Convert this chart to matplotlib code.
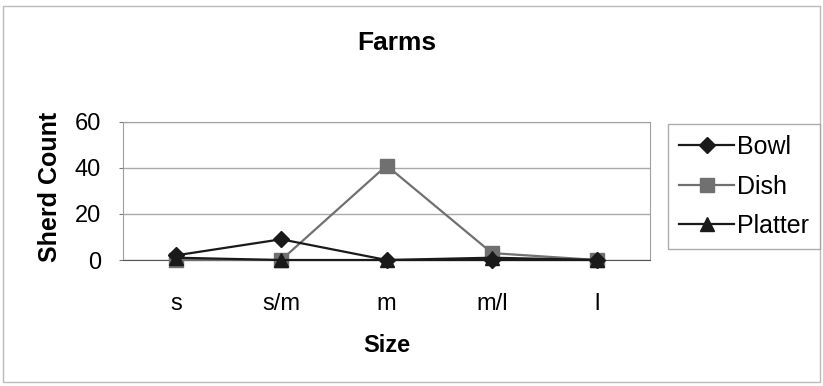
import matplotlib.pyplot as plt
from matplotlib.patches import Rectangle

plt.rcParams['font.family'] = ['Liberation Sans', 'DejaVu Sans']

sizes = ['s', 's/m', 'm', 'm/l', 'l']
bowl = [2, 9, 0, 0, 0]
dish = [0, 0, 41, 3, 0]
platter = [1, 0, 0, 1, 0]

fig = plt.figure(figsize=(8.23, 3.86), dpi=100)
# outer chart border
fig.patches.append(Rectangle((0.004, 0.01), 0.992, 0.975, transform=fig.transFigure,
                             fill=False, edgecolor='#bbbbbb', linewidth=1))

ax = fig.add_axes([0.1495, 0.3264, 0.6405, 0.358])
x = range(len(sizes))

ax.plot(x, dish, color='#707070', marker='s', markersize=10, linewidth=1.6,
        label='Dish', zorder=3, clip_on=False)
ax.plot(x, bowl, color='#1a1a1a', marker='D', markersize=8, linewidth=1.6,
        label='Bowl', zorder=4, clip_on=False)
ax.plot(x, platter, color='#1a1a1a', marker='^', markersize=10, linewidth=1.6,
        label='Platter', zorder=4, clip_on=False)

ax.set_xlim(-0.5, 4.5)
ax.set_ylim(0, 60)
ax.set_yticks([0, 20, 40, 60])
ax.set_xticks(list(x))
ax.set_xticklabels(sizes)
ax.yaxis.grid(True, color='#aaaaaa', linewidth=1)
ax.set_axisbelow(True)
for s in ax.spines.values():
    s.set_color('#a0a0a0')
ax.spines['bottom'].set_color('#555555')
ax.tick_params(axis='y', labelsize=17, length=3, color='#777777', pad=13)
ax.tick_params(axis='x', labelsize=17, length=0, pad=24)

fig.text(0.482, 0.889, 'Farms', fontsize=19, fontweight='bold', ha='center', va='center')
fig.text(0.470, 0.106, 'Size', fontsize=17, fontweight='bold', ha='center', va='center')
fig.text(0.061, 0.515, 'Sherd Count', fontsize=18, fontweight='bold', rotation=90,
         ha='center', va='center')

handles, labels = ax.get_legend_handles_labels()
order = [1, 0, 2]
leg = fig.legend([handles[i] for i in order], [labels[i] for i in order],
                 loc='upper left', bbox_to_anchor=(0.8117, 0.679), fontsize=18,
                 frameon=True, fancybox=False, edgecolor='#999999',
                 handlelength=2.2, handletextpad=0.1, labelspacing=0.62,
                 borderpad=0.45, borderaxespad=0)

fig.savefig('out.png', dpi=100)
